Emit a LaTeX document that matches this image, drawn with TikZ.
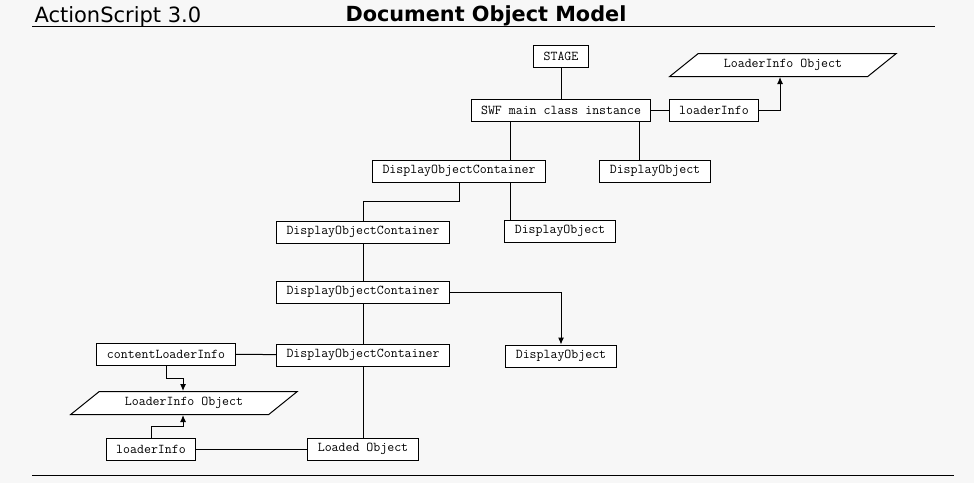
\documentclass[tikz,border=0pt]{standalone}
\usepackage{fontspec}
\newfontfamily\headfont{DejaVu Sans}
\usetikzlibrary{calc}
\usetikzlibrary{arrows.meta,shapes.geometric}
\tikzset{
	box/.style={draw, fill=white, font=\ttfamily\fontsize{13.5}{15}\selectfont, minimum height=22pt, inner xsep=10pt, inner ysep=0pt},
	paraobj/.style={trapezium, trapezium left angle=30, trapezium right angle=150, trapezium stretches=true, draw, fill=white, font=\ttfamily\fontsize{13.5}{15}\selectfont, minimum width=227pt, minimum height=23pt, inner sep=0pt},
	head/.style={inner sep=0pt, anchor=base west, font=\headfont\fontsize{21}{25}\selectfont},
	arrowed/.style={-{Latex[length=7pt,width=6pt]}}
}

\begin{document}
\begin{tikzpicture}[x=1pt, y=-1pt, line width=1pt]
	\fill[black!3] (0,0) rectangle (974,483);
	\useasboundingbox (0,0) rectangle (974,483);

	\node[head] (lang) at (34,22) {ActionScript 3.0};
	\node[head, font=\headfont\bfseries\fontsize{20.8}{25}\selectfont] (title) at (345,21) {Document Object Model};
	\coordinate (rt1) at (32,26); \coordinate (rt2) at (935,26);
	\coordinate (rb1) at (32,475); \coordinate (rb2) at (954,475);
	\draw (rt1) -- (rt2);
	\draw (rb1) -- (rb2);

	\node[box] (stage) at (561,56) {STAGE};
	\node[box] (swf) at (561,110) {SWF main class instance};
	\node[box] (li1) at (714,110) {loaderInfo};
	\node[paraobj] (lio1) at (783,65) {LoaderInfo Object};
	\node[box] (doc1) at (459,171) {DisplayObjectContainer};
	\node[box] (do1) at (655,171) {DisplayObject};
	\node[box] (doc2) at (363,232) {DisplayObjectContainer};
	\node[box] (do2) at (560,231) {DisplayObject};
	\node[box] (doc3) at (363,292) {DisplayObjectContainer};
	\node[box] (do3) at (561,356) {DisplayObject};
	\node[box] (doc4) at (363,355) {DisplayObjectContainer};
	\node[box] (cli) at (166,354) {contentLoaderInfo};
	\node[paraobj] (lio2) at (184,403) {LoaderInfo Object};
	\node[box] (li2) at (151,449) {loaderInfo};
	\node[box] (lo) at (363,449) {Loaded Object};

	\draw (stage) -- (swf);
	\draw (swf) -- (li1);
	\draw[arrowed] (li1.east) -| ([xshift=-3pt]lio1.south);
	\draw ([xshift=-51pt]swf.south) -- ([xshift=-51pt]swf.south |- doc1.north);
	\draw ([xshift=78pt]swf.south) -- ([xshift=78pt]swf.south |- do1.north);
	\draw (doc1.south) -- ++(0,19) -| (doc2.north);
	\draw ([xshift=51pt]doc1.south) -- ([xshift=51pt]doc1.south |- do2.north);
	\draw (doc2) -- (doc3);
	\draw[arrowed] (doc3.east) -| (do3.north);
	\draw (doc3) -- (doc4);
	\draw (cli) -- (doc4);
	\draw[arrowed] (cli.south) -- ++(0,13) -| ([xshift=-1pt]lio2.north);
	\draw[arrowed] (li2.north) -- ++(0,-11) -| ([xshift=-1pt]lio2.south);
	\draw (li2) -- (lo);
	\draw (doc4) -- (lo);
\end{tikzpicture}
\end{document}
